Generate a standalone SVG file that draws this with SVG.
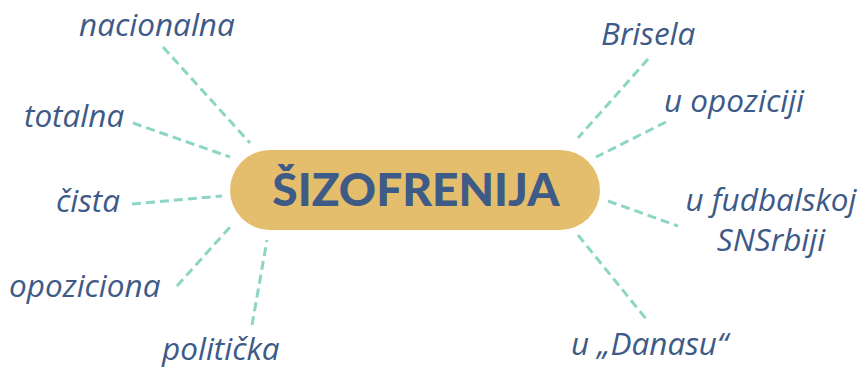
<svg xmlns="http://www.w3.org/2000/svg" width="864" height="369" viewBox="0 0 864 369">
<style>
.lbl{font-family:"Open Sans","Liberation Sans",sans-serif;font-style:italic;font-size:31.5px;fill:#3e5a86;font-weight:500}
.ttl{font-family:"Lato","Liberation Sans",sans-serif;font-weight:900;font-size:46px;fill:#3e5a86}
.con line{stroke:#8dd5c5;stroke-width:3;stroke-dasharray:9 5;fill:none}
</style>
<rect width="864" height="369" fill="#ffffff"/>
<g class="con" id="connectors">
<line x1="163" y1="47" x2="250" y2="143"/>
<line x1="133" y1="123" x2="230" y2="157"/>
<line x1="132" y1="204" x2="222" y2="196"/>
<line x1="177" y1="286" x2="230" y2="227"/>
<line x1="252" y1="325" x2="267" y2="240"/>
<line x1="648" y1="59" x2="578" y2="138"/>
<line x1="666" y1="122" x2="596" y2="157"/>
<line x1="608" y1="201" x2="678" y2="226"/>
<line x1="578" y1="235" x2="647" y2="320"/>
</g>
<g id="center">
<rect x="230" y="150" width="370" height="80" rx="40" ry="40" fill="#e4bd6d"/>
<text class="ttl" x="416" y="206" text-anchor="middle">ŠIZOFRENIJA</text>
</g>
<g id="n-nacionalna"><text class="lbl" x="79" y="36">nacionalna</text></g>
<g id="n-totalna"><text class="lbl" x="24" y="127">totalna</text></g>
<g id="n-cista"><text class="lbl" x="56" y="212">čista</text></g>
<g id="n-opoziciona"><text class="lbl" x="9" y="297">opoziciona</text></g>
<g id="n-politicka"><text class="lbl" x="162" y="360">politička</text></g>
<g id="n-brisela"><text class="lbl" x="601" y="45">Brisela</text></g>
<g id="n-uopoziciji"><text class="lbl" x="664" y="112">u opoziciji</text></g>
<g id="n-fudbalskoj"><text class="lbl" x="771" y="211" text-anchor="middle">u fudbalskoj</text><text class="lbl" x="771" y="251" text-anchor="middle">SNSrbiji</text></g>
<g id="n-danasu"><text class="lbl" x="571" y="355">u „Danasu“</text></g>
</svg>
